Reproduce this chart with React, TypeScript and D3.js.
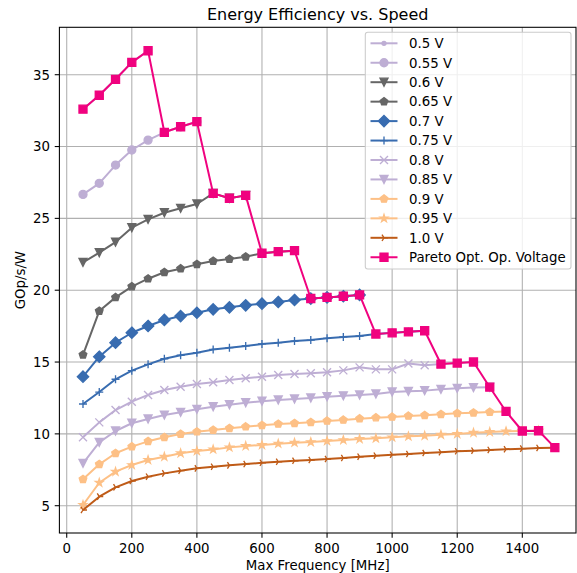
import React from "react";
import * as d3 from "d3";

const FREQ = [50, 100, 150, 200, 250, 300, 350, 400, 450, 500, 550, 600, 650, 700, 750, 800, 850, 900, 950, 1000, 1050, 1100, 1150, 1200, 1250, 1300, 1350, 1400, 1450, 1500];

const V050 = [32.6, 33.57, 34.68, 35.86, 36.67];
const V055 = [26.67, 27.44, 28.71, 29.76, 30.45, 30.99, 31.38, 31.73];
const V060 = [21.94, 22.61, 23.35, 24.35, 24.93, 25.39, 25.7, 26.0, 26.74, 26.4, 26.6];
const V065 = [15.5, 18.55, 19.5, 20.25, 20.8, 21.25, 21.5, 21.8, 22.03, 22.17, 22.33, 22.57, 22.68, 22.75];
const V070 = [13.98, 15.37, 16.35, 17.04, 17.51, 17.93, 18.2, 18.43, 18.67, 18.81, 18.95, 19.06, 19.18, 19.32, 19.42, 19.5, 19.58, 19.67];
const V075 = [12.08, 12.91, 13.8, 14.4, 14.84, 15.23, 15.47, 15.65, 15.88, 16.0, 16.12, 16.26, 16.35, 16.46, 16.53, 16.65, 16.75, 16.81, 16.95, 17.03, 17.1, 17.18];
const V080 = [9.76, 10.8, 11.66, 12.24, 12.71, 13.05, 13.28, 13.47, 13.59, 13.75, 13.87, 13.98, 14.1, 14.17, 14.22, 14.29, 14.42, 14.63, 14.49, 14.49, 14.9, 14.77, 14.86, 14.93, 15.0];
const V085 = [7.95, 9.41, 10.2, 10.74, 11.04, 11.31, 11.5, 11.71, 11.89, 12.03, 12.17, 12.27, 12.36, 12.43, 12.5, 12.59, 12.65, 12.71, 12.78, 12.92, 12.96, 13.01, 13.1, 13.17, 13.22, 13.25];
const V090 = [6.84, 7.88, 8.65, 9.11, 9.48, 9.76, 9.99, 10.15, 10.27, 10.39, 10.5, 10.6, 10.69, 10.74, 10.81, 10.9, 10.97, 11.06, 11.13, 11.18, 11.25, 11.29, 11.36, 11.43, 11.47, 11.52, 11.56];
const V095 = [5.05, 6.6, 7.37, 7.83, 8.18, 8.41, 8.65, 8.81, 8.92, 9.06, 9.16, 9.23, 9.32, 9.39, 9.43, 9.5, 9.57, 9.65, 9.69, 9.76, 9.83, 9.87, 9.94, 9.99, 10.08, 10.13, 10.18, 10.2, 10.22];
const V100 = [4.7, 5.63, 6.28, 6.72, 7.02, 7.25, 7.44, 7.6, 7.71, 7.81, 7.9, 7.99, 8.06, 8.13, 8.18, 8.25, 8.32, 8.41, 8.48, 8.55, 8.6, 8.67, 8.72, 8.79, 8.83, 8.88, 8.93, 8.97, 9.02, 9.04];
const PARETO = [32.6, 33.57, 34.68, 35.86, 36.67, 30.99, 31.38, 31.73, 26.74, 26.4, 26.6, 22.57, 22.68, 22.75, 19.42, 19.5, 19.58, 19.67, 16.95, 17.03, 17.1, 17.18, 14.86, 14.93, 15.0, 13.25, 11.56, 10.2, 10.22, 9.04];

const LABELS = ["0.5 V", "0.55 V", "0.6 V", "0.65 V", "0.7 V", "0.75 V", "0.8 V", "0.85 V", "0.9 V", "0.95 V", "1.0 V", "Pareto Opt. Op. Voltage"];
const X_TICKS = [0, 200, 400, 600, 800, 1000, 1200, 1400];
const Y_TICKS = [5, 10, 15, 20, 25, 30, 35];

const LAV = "#beaed4", GRAY = "#666666", BLUE = "#386cb0", ORANGE = "#fdc086", BROWN = "#bf5b17", PINK = "#f0027f";

const SERIES = [
  { label: LABELS[0], values: V050, color: LAV, marker: "point" },
  { label: LABELS[1], values: V055, color: LAV, marker: "circle" },
  { label: LABELS[2], values: V060, color: GRAY, marker: "tridown" },
  { label: LABELS[3], values: V065, color: GRAY, marker: "pentagon" },
  { label: LABELS[4], values: V070, color: BLUE, marker: "diamond" },
  { label: LABELS[5], values: V075, color: BLUE, marker: "plus" },
  { label: LABELS[6], values: V080, color: LAV, marker: "x" },
  { label: LABELS[7], values: V085, color: LAV, marker: "tridown" },
  { label: LABELS[8], values: V090, color: ORANGE, marker: "pentagon" },
  { label: LABELS[9], values: V095, color: ORANGE, marker: "star" },
  { label: LABELS[10], values: V100, color: BROWN, marker: "triright" },
  { label: LABELS[11], values: PARETO, color: PINK, marker: "square" },
];

const MS = 8; // marker size px (6pt)
const EW = 1.33;

function markerPath(m: string, s: number): string {
  const r = s / 2;
  const circ = (rr: number) => `M${rr},0A${rr},${rr} 0 1,1 ${-rr},0A${rr},${rr} 0 1,1 ${rr},0Z`;
  switch (m) {
    case "point": return circ(r / 2);
    case "circle": return circ(r);
    case "tridown": return `M0,${r}L${-r},${-r}L${r},${-r}Z`;
    case "pentagon": {
      const pts = d3.range(5).map((i) => {
        const a = (-90 + i * 72) * Math.PI / 180;
        return [r * Math.cos(a), r * Math.sin(a)];
      });
      return "M" + pts.map((p) => p.join(",")).join("L") + "Z";
    }
    case "diamond": {
      const d = s * Math.SQRT1_2;
      return `M0,${-d}L${d},0L0,${d}L${-d},0Z`;
    }
    case "plus": return `M${-r},0H${r}M0,${-r}V${r}`;
    case "x": return `M${-r},${-r}L${r},${r}M${-r},${r}L${r},${-r}`;
    case "star": {
      const pts = d3.range(10).map((i) => {
        const a = (-90 + i * 36) * Math.PI / 180;
        const rr = i % 2 === 0 ? r : r * 0.381966;
        return [rr * Math.cos(a), rr * Math.sin(a)];
      });
      return "M" + pts.map((p) => p.join(",")).join("L") + "Z";
    }
    case "triright": return `M0,0L${r},0M0,0L${-0.5 * r},${-0.8 * r}M0,0L${-0.5 * r},${0.8 * r}`;
    case "square": return `M${-r},${-r}H${r}V${r}H${-r}Z`;
  }
  return "";
}
const OPEN = new Set(["plus", "x", "triright"]);

function Marker({ m, color, x, y }: { m: string; color: string; x: number; y: number }) {
  const open = OPEN.has(m);
  return (
    <path
      d={markerPath(m, MS)}
      transform={`translate(${x},${y})`}
      fill={open ? "none" : color}
      stroke={color}
      strokeWidth={EW}
      strokeLinejoin="miter"
    />
  );
}

export default function App() {
  const W = 577, H = 573;
  const L = 59.4, R = 576, T = 27.3, B = 533;
  const x = d3.scaleLinear().domain([-22.5, 1565]).range([L, R]);
  const y = d3.scaleLinear().domain([3.1, 38.3]).range([B, T]);
  const font = "'DejaVu Sans', sans-serif";
  const line = d3.line<[number, number]>().x((d) => x(d[0])).y((d) => y(d[1]));
  const tickLen = 4.67;

  const legX = 365.3, legY = 32.3, legW = 205.7, legH = 236.7;
  const rowY0 = 43.3, rowStep = 19.45;

  return (
    <svg width={W} height={H} style={{ position: "absolute", left: 0, top: 0, fontFamily: font }}>
      <rect width={W} height={H} fill="#fff" />
      {/* grid */}
      {X_TICKS.map((t) => (
        <line key={"gx" + t} x1={x(t)} x2={x(t)} y1={T} y2={B} stroke="#b0b0b0" strokeWidth={1.07} />
      ))}
      {Y_TICKS.map((t) => (
        <line key={"gy" + t} x1={L} x2={R} y1={y(t)} y2={y(t)} stroke="#b0b0b0" strokeWidth={1.07} />
      ))}
      {/* series */}
      {SERIES.map((s, si) => {
        const pts = s.values.map((v, i) => [FREQ[i], v] as [number, number]);
        return (
          <g key={"s" + si}>
            <path d={line(pts) || ""} fill="none" stroke={s.color} strokeWidth={2} strokeLinejoin="round" />
            {pts.map((p, i) => (
              <Marker key={i} m={s.marker} color={s.color} x={x(p[0])} y={y(p[1])} />
            ))}
          </g>
        );
      })}
      {/* spines */}
      <rect x={L} y={T} width={R - L} height={B - T} fill="none" stroke="#000" strokeWidth={1.07} />
      {/* ticks */}
      {X_TICKS.map((t) => (
        <g key={"tx" + t}>
          <line x1={x(t)} x2={x(t)} y1={B} y2={B + tickLen} stroke="#000" strokeWidth={1.07} />
          <text x={x(t)} y={553} textAnchor="middle" fontSize={13.33} fill="#000">{t}</text>
        </g>
      ))}
      {Y_TICKS.map((t) => (
        <g key={"ty" + t}>
          <line x1={L - tickLen} x2={L} y1={y(t)} y2={y(t)} stroke="#000" strokeWidth={1.07} />
          <text x={L - tickLen - 4.67} y={y(t)} dy="0.36em" textAnchor="end" fontSize={13.33} fill="#000">{t}</text>
        </g>
      ))}
      {/* labels */}
      <text x={(L + R) / 2} y={570} textAnchor="middle" fontSize={13.33}>Max Frequency [MHz]</text>
      <text transform={`translate(25,${(T + B) / 2}) rotate(-90)`} textAnchor="middle" fontSize={13.33}>GOp/s/W</text>
      <text x={(L + R) / 2} y={20} textAnchor="middle" fontSize={16}>Energy Efficiency vs. Speed</text>
      {/* legend */}
      <g>
        <rect x={legX} y={legY} width={legW} height={legH} rx={2.5} fill="#fff" fillOpacity={0.8} stroke="#cccccc" strokeWidth={1.07} />
        {SERIES.map((s, i) => {
          const cy = rowY0 + i * rowStep;
          return (
            <g key={"l" + i}>
              <line x1={370.5} x2={397.5} y1={cy} y2={cy} stroke={s.color} strokeWidth={2} />
              <Marker m={s.marker} color={s.color} x={384} y={cy} />
              <text x={409} y={cy} dy="0.36em" fontSize={13.33} fill="#000">{s.label}</text>
            </g>
          );
        })}
      </g>
    </svg>
  );
}
